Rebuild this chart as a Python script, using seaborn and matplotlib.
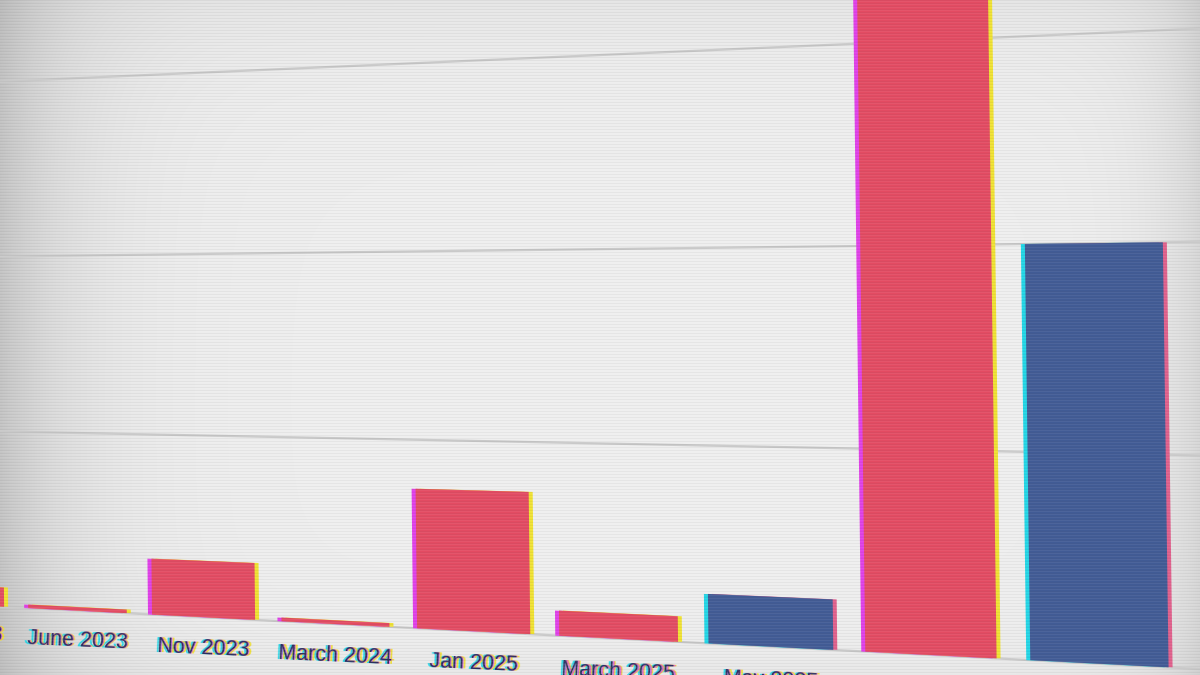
import numpy as np
import pandas as pd
import matplotlib
matplotlib.use("Agg")
import matplotlib.pyplot as plt
import matplotlib.transforms as mtransforms
import seaborn as sns

# chart data (grid step = 100)
months = ["Feb 2023", "June 2023", "Nov 2023", "March 2024", "Jan 2025",
          "March 2025", "May 2025", "Oct 2025", "Nov 2025"]
counts = [11, 2, 31, 2, 74, 13, 25, 380, 200]
party = ["R", "R", "R", "R", "R", "R", "D", "R", "D"]
grid_levels = [0, 100, 200, 300, 400]

main_colors = {"R": "#e34b62", "D": "#415b95"}
left_fringe = {"R": "#e040e8", "D": "#22d6e6"}
right_fringe = {"R": "#f0e232", "D": "#e0608c"}
label_color = "#2c2f5e"

W, H = 1200, 675


class Warp(mtransforms.Transform):
    """Perspective (homography) warp of display coordinates."""
    input_dims = 2
    output_dims = 2
    is_separable = False
    has_inverse = False

    def __init__(self, M):
        super().__init__()
        self.M = M

    def transform_non_affine(self, values):
        pts = np.asarray(values, dtype=float).reshape(-1, 2)
        h = np.column_stack([pts, np.ones(len(pts))]) @ self.M.T
        return h[:, :2] / h[:, 2:3]


def fit_homography(src, dst):
    rows = []
    for (x, y), (u, v) in zip(src, dst):
        rows.append([x, y, 1, 0, 0, 0, -u * x, -u * y, -u])
        rows.append([0, 0, 0, x, y, 1, -v * x, -v * y, -v])
    _, _, vt = np.linalg.svd(np.array(rows))
    return vt[-1].reshape(3, 3)


df = pd.DataFrame({"month": months, "count": counts, "party": party})

fig = plt.figure(figsize=(12, 6.75), dpi=100)

# background with vignette
bg_ax = fig.add_axes([0, 0, 1, 1], zorder=-2)
xx, yy = np.meshgrid(np.arange(W), np.arange(H))
bg = (0.94 - 0.17 * np.exp(-xx / 70.0) - 0.10 * np.exp(-(W - xx) / 45.0)
      - 0.04 * np.exp(-yy / 60.0) - 0.03 * np.exp(-(H - yy) / 40.0))
bg_ax.imshow(np.dstack([bg, bg, bg]), aspect="auto", extent=(0, W, H, 0))
bg_ax.axis("off")

ax = fig.add_axes([0, 0, 1, 1])
ax.patch.set_alpha(0)
ax.set_xlim(-0.6, 8.6)
ax.set_ylim(-60, 420)
ax.set_autoscale_on(False)

# perspective calibration: data point -> picture pixel (y down)
calib = [((1, 0), (78, 610)), ((4, 0), (471, 634)), ((7, 0), (933, 656)),
         ((8, 0), (1098, 661)), ((1, 300), (71, 78)), ((7, 300), (924, 42)),
         ((8, 200), (1092, 243)), ((4, 100), (469, 440)),
         ((1, 100), (77, 433)), ((1, 200), (74, 255))]
src = ax.transData.transform(np.array([c[0] for c in calib], dtype=float))
dst = np.array([(u, H - v) for _, (u, v) in calib], dtype=float)
warp = Warp(fit_homography(src, dst))
base_tr = ax.transData + warp


def shifted(dx):
    return base_tr + mtransforms.Affine2D().translate(dx, 0)


# gridlines
ax.hlines(grid_levels, -3, 12, color="#c9c9c9", lw=1.6, transform=base_tr, zorder=1)

# bars: two colour-fringe layers, then the main bars
for pal, dx, z in [(left_fringe, -4, 2), (right_fringe, 4, 2), (main_colors, 0, 3)]:
    before = set(ax.patches)
    sns.barplot(data=df, x="month", y="count", hue="party", order=months,
                palette=pal, dodge=False, width=0.8, legend=False,
                saturation=1, ax=ax)
    for p in ax.patches:
        if p not in before:
            p.set_transform(shifted(dx))
            p.set_zorder(z)
            p.set_linewidth(0)

ax.set_xlim(-0.6, 8.6)
ax.set_ylim(-60, 420)
ax.axis("off")

# category labels with chromatic fringes
for i, m in enumerate(months):
    for dx, col, a in [(-2.5, "#1ed8e8", 0.9), (2.5, "#f0e030", 0.9),
                       (1.2, "#e040e0", 0.7), (0, label_color, 1.0)]:
        ax.text(i, -17, m, transform=shifted(dx), ha="center", va="center",
                fontsize=15.5, rotation=-2.5, rotation_mode="anchor",
                color=col, alpha=a, family="Liberation Sans", zorder=4)

# scanline overlay
ov_ax = fig.add_axes([0, 0, 1, 1], zorder=10)
ov = np.zeros((H, W, 4))
ov[::3, :, :3] = 0.35
ov[::3, :, 3] = 0.07
ov[1::3, :, :3] = 1.0
ov[1::3, :, 3] = 0.06
ov_ax.imshow(ov, aspect="auto", extent=(0, W, H, 0))
ov_ax.axis("off")

fig.savefig("out.png", dpi=100)
